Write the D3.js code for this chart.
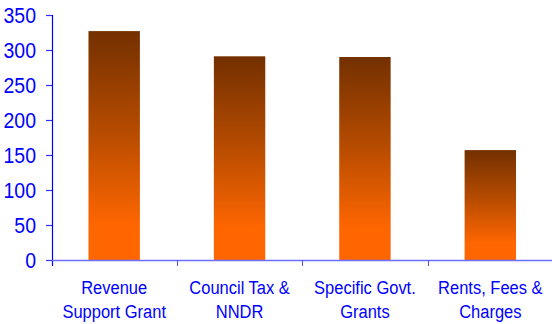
<!DOCTYPE html>
<html>
<head>
<meta charset="utf-8">
<script src="https://cdn.jsdelivr.net/npm/d3@7"></script>
<style>
  html, body { margin: 0; padding: 0; background: #fff; }
  svg { display: block; }
  text { font-family: "Liberation Sans", Arial, sans-serif; fill: #0000ff; }
</style>
</head>
<body>
<svg id="chart" width="552" height="324"></svg>
<script>
// Income sources (£m)
const categories = [
  ["Revenue", "Support Grant"],
  ["Council Tax &", "NNDR"],
  ["Specific Govt.", "Grants"],
  ["Rents, Fees &", "Charges"]
];
const values = [327, 291, 290, 157];
const yTicks = [0, 50, 100, 150, 200, 250, 300, 350];

const svg = d3.select("#chart");
const plotLeft = 52, plotRight = 553, plotTop = 15, plotBottom = 260;
const textStretch = 1.1; // text is drawn slightly taller than wide

const keys = categories.map(c => c.join(" "));
const x = d3.scaleBand().domain(keys).range([plotLeft - 0.5, plotRight]).padding(0);
const y = d3.scaleLinear().domain([0, 350]).range([plotBottom, plotTop]);
const barFrac = 0.41;

// Vertical gradient: dark brown at the top of each bar, orange at the base
const grad = svg.append("defs").append("linearGradient")
  .attr("id", "barGrad")
  .attr("x1", 0).attr("y1", 0).attr("x2", 0).attr("y2", 1);
grad.append("stop").attr("offset", "0%").attr("stop-color", "#733000");
grad.append("stop").attr("offset", "45%").attr("stop-color", "#b84c00");
grad.append("stop").attr("offset", "85%").attr("stop-color", "#ff6600");
grad.append("stop").attr("offset", "100%").attr("stop-color", "#ff6600");

// Bars
svg.append("g").selectAll("rect")
  .data(values)
  .join("rect")
  .attr("x", (d, i) => x(keys[i]) + x.bandwidth() * (1 - barFrac) / 2)
  .attr("width", x.bandwidth() * barFrac)
  .attr("y", d => y(d))
  .attr("height", d => y(0) - y(d))
  .attr("fill", "url(#barGrad)");

// Y axis
const yAxis = svg.append("g")
  .attr("transform", `translate(${plotLeft},0)`)
  .call(d3.axisLeft(y).tickValues(yTicks).tickSize(6).tickPadding(10));
yAxis.select(".domain").remove();
yAxis.append("line")
  .attr("x1", 0.5).attr("x2", 0.5)
  .attr("y1", plotTop).attr("y2", plotBottom + 6)
  .attr("stroke", "#0000ff").attr("stroke-width", 1.2);
yAxis.selectAll(".tick line").attr("stroke", "#3030ff").attr("stroke-width", 1.2);
yAxis.selectAll(".tick text")
  .attr("fill", "#0000ff")
  .attr("dy", "0.34em")
  .attr("transform", `scale(1,${textStretch})`)
  .style("font-size", "19.5px");

// X axis: baseline with ticks at category boundaries
const xg = svg.append("g");
xg.append("line")
  .attr("x1", plotLeft).attr("x2", 552)
  .attr("y1", plotBottom + 0.5).attr("y2", plotBottom + 0.5)
  .attr("stroke", "#6e6eff").attr("stroke-width", 1.6);
xg.selectAll("line.xt")
  .data(keys.slice(1))
  .join("line")
  .attr("class", "xt")
  .attr("x1", d => Math.round(x(d)) + 0.5)
  .attr("x2", d => Math.round(x(d)) + 0.5)
  .attr("y1", plotBottom)
  .attr("y2", plotBottom + 6)
  .attr("stroke", "#5050ff").attr("stroke-width", 1);

// Category labels (two lines each)
categories.forEach((lines, i) => {
  const cx = x(keys[i]) + x.bandwidth() / 2;
  xg.selectAll(null)
    .data(lines)
    .join("text")
    .attr("class", "cat")
    .attr("text-anchor", "middle")
    .attr("transform", (t, j) => `translate(${cx},${294 + j * 24}) scale(1,${textStretch})`)
    .style("font-size", "16.5px")
    .text(t => t);
});
</script>
</body>
</html>
